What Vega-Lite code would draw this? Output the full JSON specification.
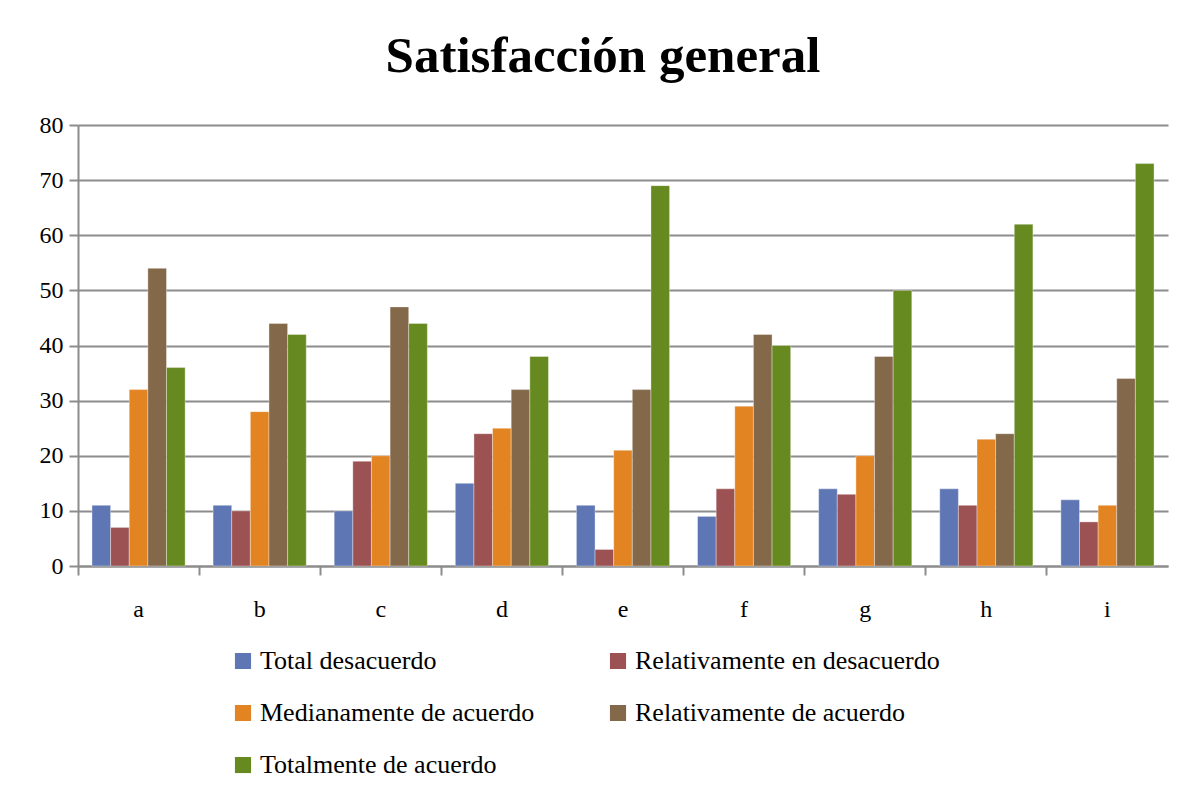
{
  "$schema": "https://vega.github.io/schema/vega-lite/v6.json",
  "width": 1090,
  "height": 441,
  "autosize": {"type": "none"},
  "padding": {"left": 78, "top": 125, "right": 23, "bottom": 235},
  "background": "white",
  "title": {
    "text": "Satisfacción general",
    "font": "Liberation Serif",
    "fontSize": 51,
    "fontWeight": "bold",
    "color": "black",
    "anchor": "middle",
    "dx": -20,
    "offset": 30
  },
  "data": {
    "values": [
      {"cat": "a", "serie": "Total desacuerdo", "valor": 11},
      {"cat": "a", "serie": "Relativamente en desacuerdo", "valor": 7},
      {"cat": "a", "serie": "Medianamente de acuerdo", "valor": 32},
      {"cat": "a", "serie": "Relativamente de acuerdo", "valor": 54},
      {"cat": "a", "serie": "Totalmente de acuerdo", "valor": 36},
      {"cat": "b", "serie": "Total desacuerdo", "valor": 11},
      {"cat": "b", "serie": "Relativamente en desacuerdo", "valor": 10},
      {"cat": "b", "serie": "Medianamente de acuerdo", "valor": 28},
      {"cat": "b", "serie": "Relativamente de acuerdo", "valor": 44},
      {"cat": "b", "serie": "Totalmente de acuerdo", "valor": 42},
      {"cat": "c", "serie": "Total desacuerdo", "valor": 10},
      {"cat": "c", "serie": "Relativamente en desacuerdo", "valor": 19},
      {"cat": "c", "serie": "Medianamente de acuerdo", "valor": 20},
      {"cat": "c", "serie": "Relativamente de acuerdo", "valor": 47},
      {"cat": "c", "serie": "Totalmente de acuerdo", "valor": 44},
      {"cat": "d", "serie": "Total desacuerdo", "valor": 15},
      {"cat": "d", "serie": "Relativamente en desacuerdo", "valor": 24},
      {"cat": "d", "serie": "Medianamente de acuerdo", "valor": 25},
      {"cat": "d", "serie": "Relativamente de acuerdo", "valor": 32},
      {"cat": "d", "serie": "Totalmente de acuerdo", "valor": 38},
      {"cat": "e", "serie": "Total desacuerdo", "valor": 11},
      {"cat": "e", "serie": "Relativamente en desacuerdo", "valor": 3},
      {"cat": "e", "serie": "Medianamente de acuerdo", "valor": 21},
      {"cat": "e", "serie": "Relativamente de acuerdo", "valor": 32},
      {"cat": "e", "serie": "Totalmente de acuerdo", "valor": 69},
      {"cat": "f", "serie": "Total desacuerdo", "valor": 9},
      {"cat": "f", "serie": "Relativamente en desacuerdo", "valor": 14},
      {"cat": "f", "serie": "Medianamente de acuerdo", "valor": 29},
      {"cat": "f", "serie": "Relativamente de acuerdo", "valor": 42},
      {"cat": "f", "serie": "Totalmente de acuerdo", "valor": 40},
      {"cat": "g", "serie": "Total desacuerdo", "valor": 14},
      {"cat": "g", "serie": "Relativamente en desacuerdo", "valor": 13},
      {"cat": "g", "serie": "Medianamente de acuerdo", "valor": 20},
      {"cat": "g", "serie": "Relativamente de acuerdo", "valor": 38},
      {"cat": "g", "serie": "Totalmente de acuerdo", "valor": 50},
      {"cat": "h", "serie": "Total desacuerdo", "valor": 14},
      {"cat": "h", "serie": "Relativamente en desacuerdo", "valor": 11},
      {"cat": "h", "serie": "Medianamente de acuerdo", "valor": 23},
      {"cat": "h", "serie": "Relativamente de acuerdo", "valor": 24},
      {"cat": "h", "serie": "Totalmente de acuerdo", "valor": 62},
      {"cat": "i", "serie": "Total desacuerdo", "valor": 12},
      {"cat": "i", "serie": "Relativamente en desacuerdo", "valor": 8},
      {"cat": "i", "serie": "Medianamente de acuerdo", "valor": 11},
      {"cat": "i", "serie": "Relativamente de acuerdo", "valor": 34},
      {"cat": "i", "serie": "Totalmente de acuerdo", "valor": 73}
    ]
  },
  "mark": {"type": "bar", "stroke": "white", "strokeOpacity": 0.35, "strokeWidth": 1},
  "encoding": {
    "x": {
      "field": "cat",
      "type": "nominal",
      "title": null,
      "scale": {"paddingInner": 0, "paddingOuter": 0},
      "axis": {
        "labelAngle": 0,
        "labelFont": "Liberation Serif",
        "labelFontSize": 24,
        "labelColor": "black",
        "labelPadding": 22,
        "bandPosition": 0,
        "tickSize": 9,
        "tickColor": "#8c8c8c",
        "tickWidth": 2,
        "domainColor": "#8c8c8c",
        "domainWidth": 2,
        "grid": false
      }
    },
    "xOffset": {
      "field": "serie",
      "type": "nominal",
      "sort": ["Total desacuerdo", "Relativamente en desacuerdo", "Medianamente de acuerdo", "Relativamente de acuerdo", "Totalmente de acuerdo"],
      "scale": {"paddingInner": 0, "paddingOuter": 0.75}
    },
    "y": {
      "field": "valor",
      "type": "quantitative",
      "title": null,
      "scale": {"domain": [0, 80], "nice": false},
      "axis": {
        "values": [0, 10, 20, 30, 40, 50, 60, 70, 80],
        "labelFont": "Liberation Serif",
        "labelFontSize": 24,
        "labelColor": "black",
        "labelPadding": 6,
        "tickSize": 9,
        "tickColor": "#8c8c8c",
        "tickWidth": 2,
        "domainColor": "#8c8c8c",
        "domainWidth": 2,
        "grid": true,
        "gridColor": "#8c8c8c",
        "gridWidth": 2
      }
    },
    "color": {
      "field": "serie",
      "type": "nominal",
      "sort": ["Total desacuerdo", "Relativamente en desacuerdo", "Medianamente de acuerdo", "Relativamente de acuerdo", "Totalmente de acuerdo"],
      "scale": {
        "domain": ["Total desacuerdo", "Relativamente en desacuerdo", "Medianamente de acuerdo", "Relativamente de acuerdo", "Totalmente de acuerdo"],
        "range": ["#5f76b4", "#9c5252", "#e38422", "#84684a", "#678a20"]
      },
      "legend": {
        "title": null,
        "orient": "none",
        "legendX": 152,
        "legendY": 523,
        "direction": "horizontal",
        "columns": 2,
        "symbolType": "square",
        "symbolSize": 260,
        "symbolStrokeWidth": 0,
        "labelFont": "Liberation Serif",
        "labelFontSize": 26,
        "labelColor": "black",
        "labelLimit": 500,
        "labelOffset": 4,
        "rowPadding": 26,
        "columnPadding": 40,
        "clipHeight": 26,
        "gridAlign": "all"
      }
    }
  },
  "config": {
    "view": {"stroke": null}
  }
}
